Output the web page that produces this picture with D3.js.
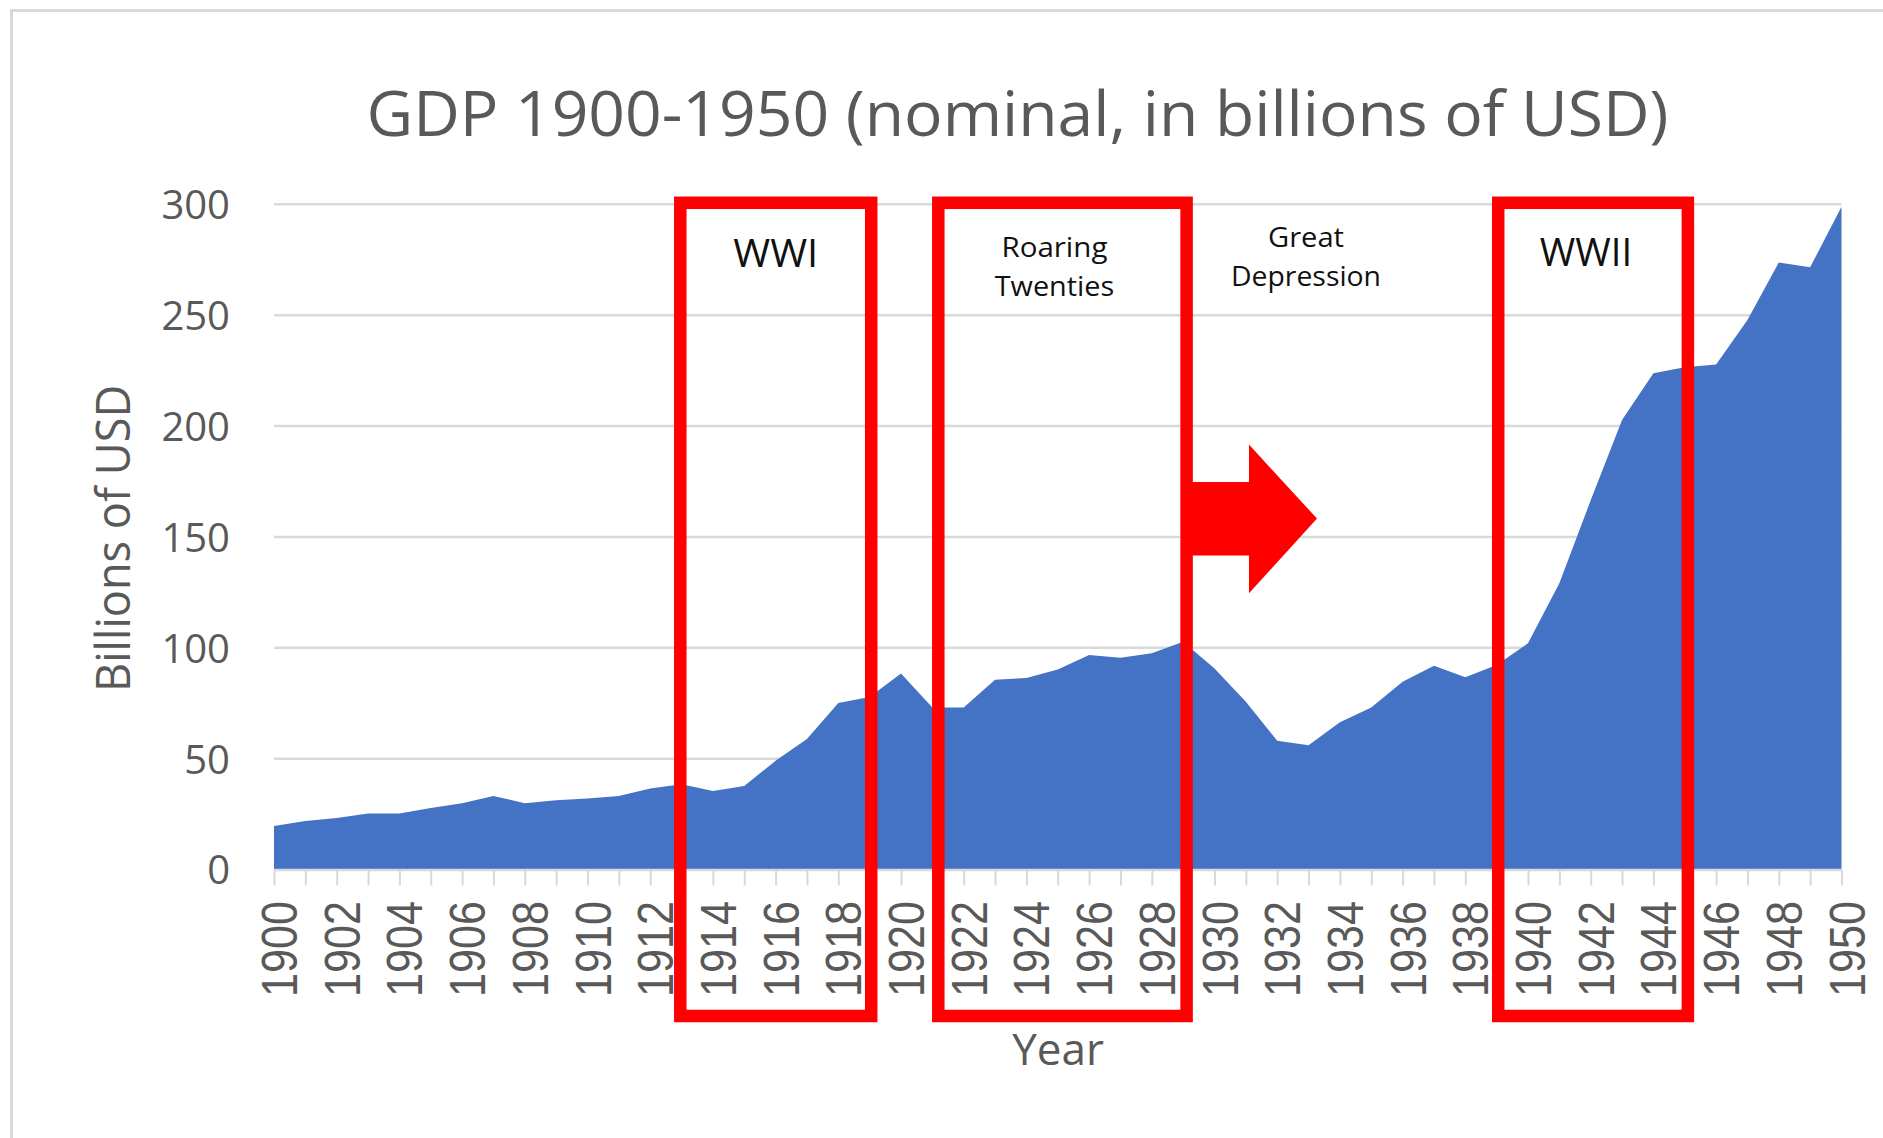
<!DOCTYPE html>
<html>
<head>
<meta charset="utf-8">
<title>GDP 1900-1950</title>
<script src="https://cdnjs.cloudflare.com/ajax/libs/d3/7.8.5/d3.min.js"></script>
<style>
  body { margin: 0; background: #fff; }
</style>
</head>
<body>
<script>
// data (billions of USD)
var years = [1900, 1901, 1902, 1903, 1904, 1905, 1906, 1907, 1908, 1909,
             1910, 1911, 1912, 1913, 1914, 1915, 1916, 1917, 1918, 1919,
             1920, 1921, 1922, 1923, 1924, 1925, 1926, 1927, 1928, 1929,
             1930, 1931, 1932, 1933, 1934, 1935, 1936, 1937, 1938, 1939,
             1940, 1941, 1942, 1943, 1944, 1945, 1946, 1947, 1948, 1949, 1950];
var gdp = [19.6, 21.9, 23.2, 25.2, 25.2, 27.7, 29.9, 33.2, 29.9, 31.2,
           32.0, 33.2, 36.5, 38.5, 35.4, 37.7, 49.0, 58.9, 75.1, 77.8,
           88.4, 73.1, 73.1, 85.6, 86.4, 90.2, 96.7, 95.5, 97.5, 102.7,
           90.6, 75.6, 58.1, 56.0, 66.4, 73.1, 84.7, 91.9, 86.7, 92.2,
           102.0, 129.1, 166.5, 202.7, 223.8, 226.5, 227.8, 247.8, 273.7, 271.6, 298.9];
var yTicks = [0, 50, 100, 150, 200, 250, 300];

// highlighted periods (red boxes)
var periodStart = [1912.96, 1921.19, 1939.05];
var periodEnd = [1919.05, 1929.11, 1945.10];
var periodLabels = [['WWI'], ['Roaring', 'Twenties'], ['WWII']];
var depressionLabel = ['Great', 'Depression'];

var width = 1883,
    height = 1138;
var fontMain = '"Open Sans", "Liberation Sans", sans-serif';
var fontNarrow = '"Liberation Sans Narrow", "Liberation Sans", sans-serif';
var grey = '#595959', gridGrey = '#d9d9d9', red = '#ff0000';

var x = d3.scaleLinear().domain([1900, 1950]).range([274, 1841.5]);
var y = d3.scaleLinear().domain([0, 300]).range([869.5, 204.3]);

var svg = d3.select('body').append('svg')
    .attr('width', width)
    .attr('height', height);

// chart border
svg.append('rect')
  .attr('x', 11.5).attr('y', 10.5)
  .attr('width', 2200).attr('height', 2200)
  .attr('fill', '#fff')
  .attr('stroke', gridGrey)
  .attr('stroke-width', 3);

// title
svg.append('text')
  .attr('x', 1017.5).attr('y', 136)
  .attr('text-anchor', 'middle')
  .attr('font-family', fontMain)
  .attr('font-size', 62)
  .attr('fill', grey)
  .attr('textLength', 1302)
  .attr('lengthAdjust', 'spacingAndGlyphs')
  .text('GDP 1900-1950 (nominal, in billions of USD)');

// gridlines
svg.append('g')
  .selectAll('line')
  .data(yTicks.slice(1))
  .enter().append('line')
    .attr('x1', x(1900)).attr('x2', x(1950))
    .attr('y1', function(d) { return y(d); })
    .attr('y2', function(d) { return y(d); })
    .attr('stroke', gridGrey)
    .attr('stroke-width', 2.5);

// y axis labels
var gy = svg.append('g')
  .attr('transform', 'translate(' + x(1900) + ',0)')
  .call(d3.axisLeft(y).tickValues(yTicks).tickSize(0).tickPadding(44));
gy.select('.domain').remove();
gy.selectAll('text')
  .attr('font-family', fontMain)
  .attr('font-size', 40)
  .attr('fill', grey)
  .attr('dy', '0.36em');

// area
var area = d3.area()
  .x(function(d, i) { return x(years[i]); })
  .y0(y(0))
  .y1(function(d) { return y(d); });
svg.append('path')
  .datum(gdp)
  .attr('d', area)
  .attr('fill', '#4472c4');

// x axis
var gx = svg.append('g')
  .attr('transform', 'translate(0,' + y(0) + ')')
  .call(d3.axisBottom(x)
    .tickValues(years)
    .tickSize(16)
    .tickSizeOuter(0)
    .tickFormat(function(d) { return (d - 1900) % 2 === 0 ? String(d) : ''; }));
gx.select('.domain')
  .attr('stroke', gridGrey)
  .attr('stroke-width', 2.5);
gx.selectAll('.tick line')
  .attr('stroke', gridGrey)
  .attr('stroke-width', 2);
gx.selectAll('.tick text')
  .attr('transform', 'rotate(-90)')
  .attr('x', -31.5)
  .attr('y', 0)
  .attr('dy', '0.45em')
  .attr('text-anchor', 'end')
  .attr('font-family', fontNarrow)
  .attr('font-size', 50)
  .attr('fill', grey)
  .filter(function(d) { return (d - 1900) % 2 === 0; })
    .attr('textLength', 96)
    .attr('lengthAdjust', 'spacingAndGlyphs');

// axis titles
svg.append('text')
  .attr('x', 1058).attr('y', 1065)
  .attr('text-anchor', 'middle')
  .attr('font-family', fontMain)
  .attr('font-size', 44)
  .attr('fill', grey)
  .text('Year');

svg.append('text')
  .attr('transform', 'translate(130,538.4) rotate(-90)')
  .attr('text-anchor', 'middle')
  .attr('font-family', fontMain)
  .attr('font-size', 48)
  .attr('fill', grey)
  .attr('textLength', 307)
  .attr('lengthAdjust', 'spacingAndGlyphs')
  .text('Billions of USD');

// arrow towards the great depression
var ax0 = x(periodEnd[1]), ax1 = x(1931.1), ax2 = x(1933.27);
svg.append('path')
  .attr('d', 'M' + ax0 + ',482 L' + ax1 + ',482 L' + ax1 + ',444.6 L' + ax2 + ',518.6 L'
        + ax1 + ',593.2 L' + ax1 + ',555.4 L' + ax0 + ',555.4 Z')
  .attr('fill', red);

// period boxes
svg.append('g')
  .selectAll('rect')
  .data(periodStart)
  .enter().append('rect')
    .attr('x', function(d) { return x(d); })
    .attr('y', y(300) - 1.5)
    .attr('width', function(d, i) { return x(periodEnd[i]) - x(d); })
    .attr('height', 1016 - (y(300) - 1.5))
    .attr('fill', 'none')
    .attr('stroke', red)
    .attr('stroke-width', 12.5);

// period labels
var labelSize = [38, 28, 38];
var labelShift = [0, -8, -7];
var labelWidth = [[85], [106, 119.5], [92.4]];
var labelBase = [[267], [256.5, 295.7], [266]];
periodLabels.forEach(function(lines, i) {
  var cx = (x(periodStart[i]) + x(periodEnd[i])) / 2 + labelShift[i];
  lines.forEach(function(t, j) {
    svg.append('text')
      .attr('x', cx).attr('y', labelBase[i][j])
      .attr('text-anchor', 'middle')
      .attr('font-family', fontMain)
      .attr('font-size', labelSize[i])
      .attr('fill', '#111')
      .attr('textLength', labelWidth[i][j])
      .attr('lengthAdjust', 'spacingAndGlyphs')
      .text(t);
  });
});

var depWidth = [76, 150], depBase = [247, 285.7];
depressionLabel.forEach(function(t, j) {
  svg.append('text')
    .attr('x', 1306).attr('y', depBase[j])
    .attr('text-anchor', 'middle')
    .attr('font-family', fontMain)
    .attr('font-size', 28)
    .attr('fill', '#111')
    .attr('textLength', depWidth[j])
    .attr('lengthAdjust', 'spacingAndGlyphs')
    .text(t);
});
</script>
</body>
</html>
